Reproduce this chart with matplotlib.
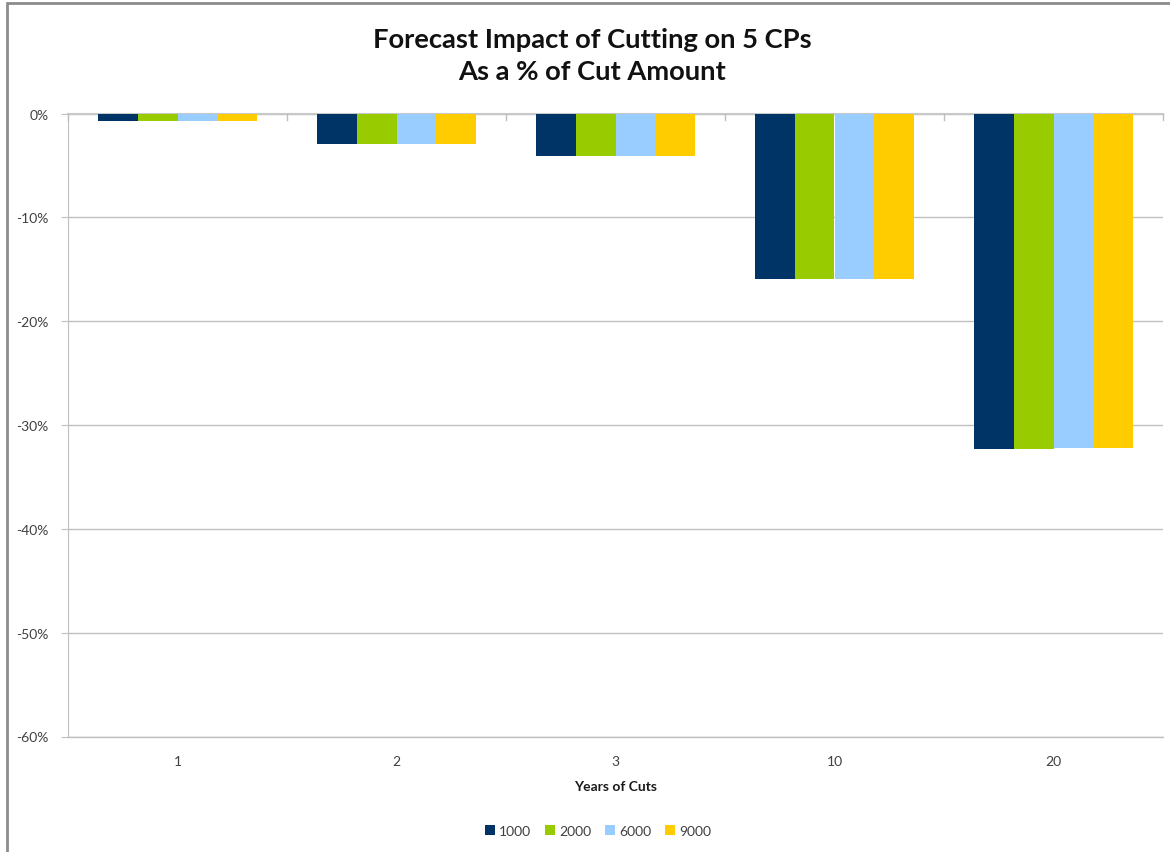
import numpy as np
import matplotlib
matplotlib.use("Agg")
import matplotlib.pyplot as plt
from matplotlib.patches import Rectangle
from matplotlib.ticker import FuncFormatter, FixedLocator

# Forecast impact (% of cut amount) by years of cuts, one series per CP count
years = ["1", "2", "3", "10", "20"]
cut_1000 = [-0.7, -2.9, -4.1, -15.9, -32.3]
cut_2000 = [-0.7, -2.9, -4.1, -15.9, -32.3]
cut_6000 = [-0.7, -2.9, -4.1, -15.9, -32.2]
cut_9000 = [-0.7, -2.9, -4.1, -15.9, -32.2]
series_names = ["1000", "2000", "6000", "9000"]
colors = ["#003366", "#99CC00", "#99CCFF", "#FFCC00"]

plt.rcParams["font.family"] = ["Lato", "DejaVu Sans"]

fig = plt.figure(figsize=(11.7, 8.53), dpi=100)
W, H = 1170, 853

# chart-area frame
fig.patches.append(Rectangle((7 / W, -0.01), 1.2, (H - 4) / H + 0.01,
                             transform=fig.transFigure, fill=False,
                             edgecolor="#8C8C8C", linewidth=2.0))

ax = fig.add_axes([68 / W, 115.5 / H, 1095 / W, 623 / H])

data = [cut_1000, cut_2000, cut_6000, cut_9000]
x = np.arange(len(years))
bw = 0.182
for i, (vals, name, c) in enumerate(zip(data, series_names, colors)):
    ax.bar(x + (i - 1.5) * bw, np.array(vals) / 100.0, width=bw, color=c,
           label=name, zorder=3, linewidth=0)

ax.set_xlim(-0.5, len(years) - 0.5)
ax.set_ylim(-0.6, 0.0)


def pct(v, pos):
    r = int(round(v * 100))
    return f"{r}%" if r != 0 else "0%"


ax.yaxis.set_major_locator(FixedLocator(np.arange(-0.6, 0.001, 0.1)))
ax.yaxis.set_major_formatter(FuncFormatter(pct))
ax.grid(axis="y", color="#BFBFBF", linewidth=1.0, zorder=0)
ax.axhline(-0.6, color="#BFBFBF", linewidth=1.0, clip_on=False, zorder=0)
ax.set_axisbelow(True)

for s in ["right", "bottom"]:
    ax.spines[s].set_visible(False)
ax.spines["left"].set_color("#BFBFBF")
ax.spines["top"].set_color("#C8C8C8")
ax.spines["top"].set_linewidth(1.5)

ax.tick_params(axis="y", length=5, color="#BFBFBF", labelsize=10,
               labelcolor="#404040", pad=9)
ax.set_xticks(x)
ax.set_xticklabels(years)
ax.tick_params(axis="x", length=0, labelsize=10, labelcolor="#404040", pad=13)

# category boundary tick marks along the zero line
for b in np.arange(-0.5, len(years), 1.0):
    ax.plot([b, b], [0, -0.006], color="#BFBFBF", linewidth=1.0,
            clip_on=False, zorder=4)

ax.set_xlabel("Years of Cuts", fontsize=10, fontweight="bold",
              color="#1a1a1a", labelpad=10)

fig.text(592 / W, 1 - 56 / H, "Forecast Impact of Cutting on 5 CPs\nAs a % of Cut Amount",
         ha="center", va="center", fontsize=19.7, fontweight="bold",
         color="#111111", linespacing=1.45)

leg = fig.legend(loc="center", bbox_to_anchor=(598 / W, 1 - 832 / H), ncol=4,
                 frameon=False, fontsize=10, handlelength=0.7, handleheight=0.7,
                 handletextpad=0.3, columnspacing=1.0)
for t in leg.get_texts():
    t.set_color("#404040")

fig.savefig("out.png", dpi=100, facecolor="white")
